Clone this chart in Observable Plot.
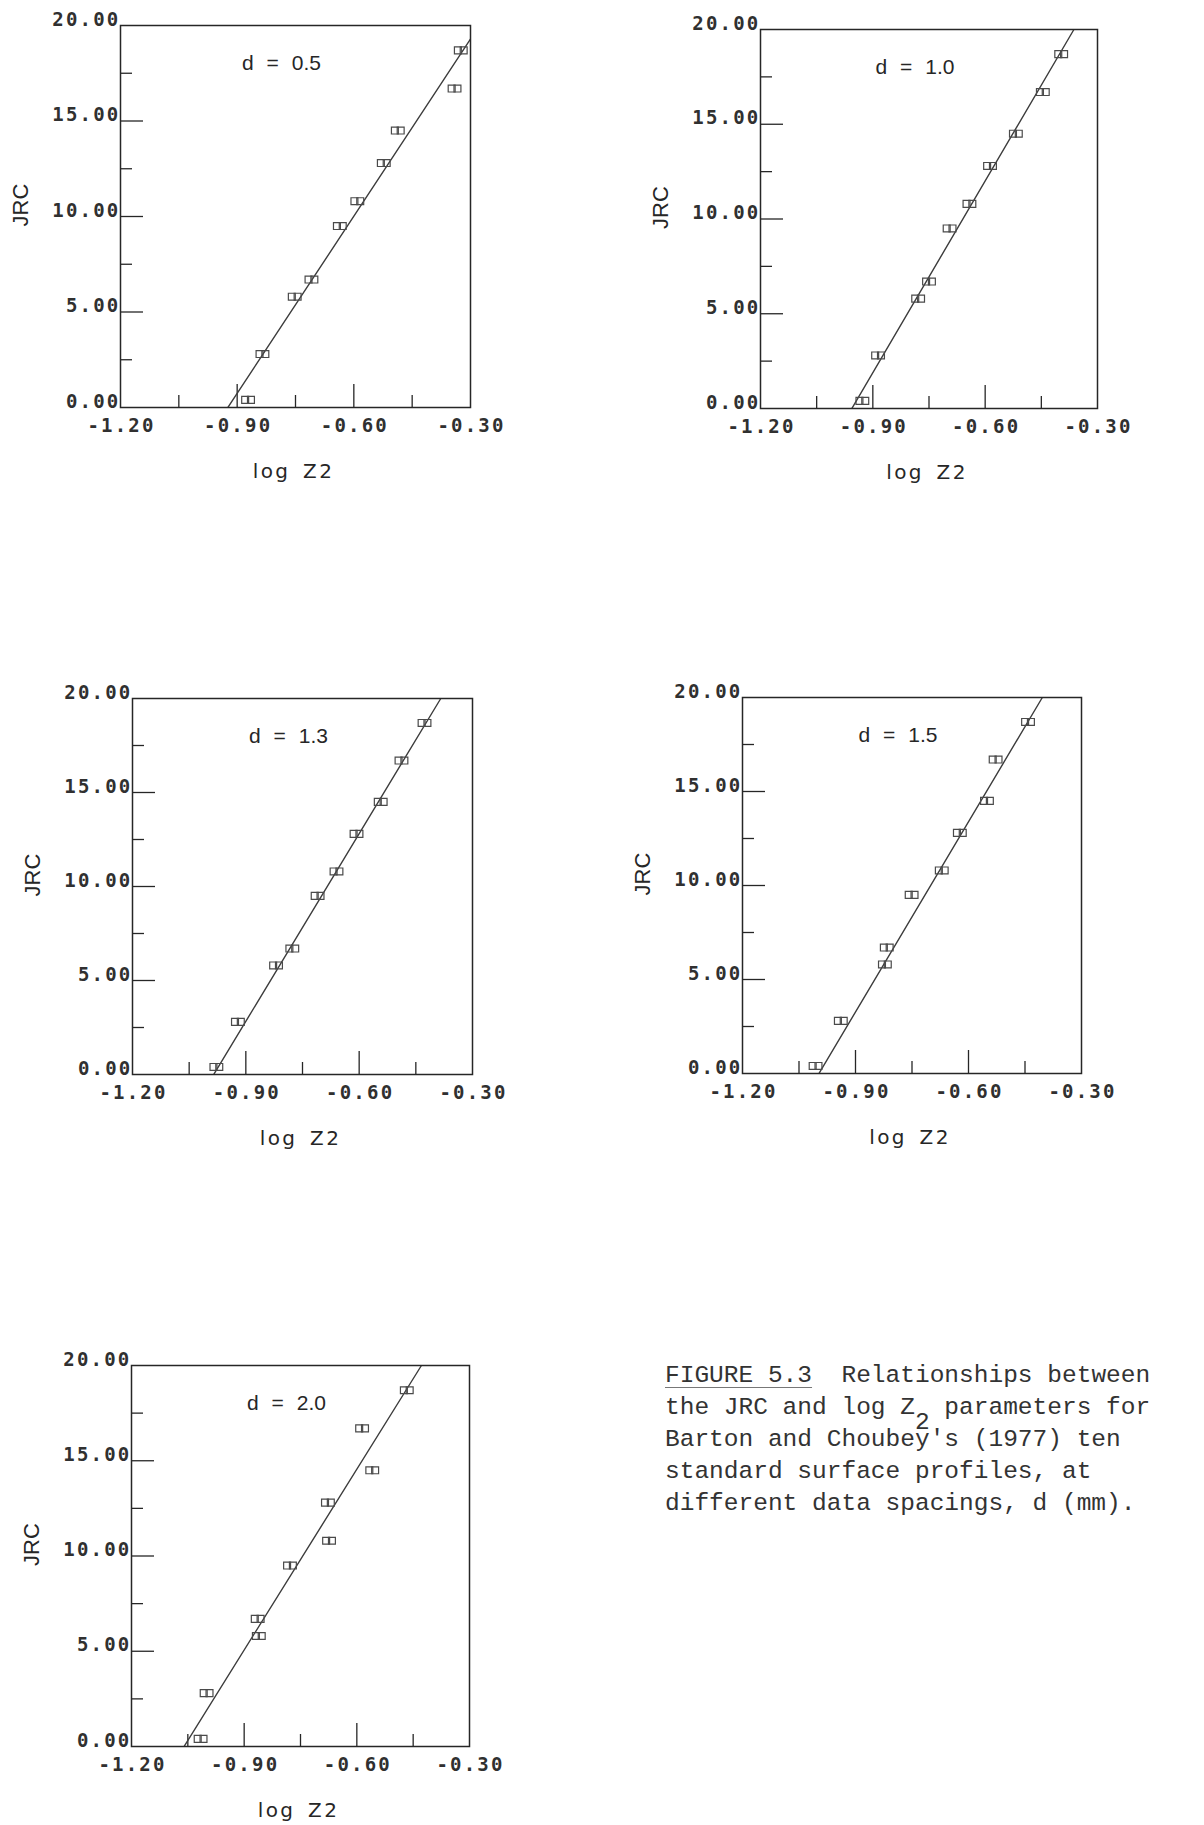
<!DOCTYPE html>
<html>
<head>
<meta charset="utf-8">
<script src="https://cdn.jsdelivr.net/npm/d3@7"></script>
<script src="https://cdn.jsdelivr.net/npm/@observablehq/plot@0.6"></script>
<style>
  html, body { margin: 0; padding: 0; background: #fff; }
  #page { position: relative; width: 1204px; height: 1825px; overflow: hidden; background: #fff; }
  .panel { position: absolute; }
  #caption {
    position: absolute; left: 665px; top: 1360px;
    font-family: "Liberation Mono", "DejaVu Sans Mono", monospace;
    font-size: 24.5px; line-height: 32px; color: #333;
  }
  #caption div { white-space: pre; height: 32px; }
  #caption u { text-decoration-thickness: 1px; text-underline-offset: 5px; text-decoration-color: #777; }
  #caption .sub { position: relative; top: 15px; }
</style>
</head>
<body>
<div id="page"></div>
<script>
// JRC of Barton and Choubey's ten standard profiles
const jrc = [0.4, 2.8, 5.8, 6.7, 9.5, 10.8, 12.8, 14.5, 16.7, 18.7];

// data spacing d (mm) for each panel
const spacings = ["0.5", "1.0", "1.3", "1.5", "2.0"];

// log Z2 of each profile, in the same order as jrc
const logZ2_d05 = [-0.872, -0.835, -0.752, -0.709, -0.636, -0.591, -0.523, -0.487, -0.341, -0.325];
const logZ2_d10 = [-0.928, -0.886, -0.779, -0.750, -0.695, -0.642, -0.587, -0.518, -0.446, -0.397];
const logZ2_d13 = [-0.978, -0.921, -0.820, -0.777, -0.710, -0.660, -0.607, -0.543, -0.488, -0.427];
const logZ2_d15 = [-1.006, -0.939, -0.822, -0.817, -0.751, -0.671, -0.623, -0.551, -0.528, -0.442];
const logZ2_d20 = [-1.016, -1.000, -0.861, -0.864, -0.778, -0.674, -0.677, -0.559, -0.586, -0.467];
const logZ2 = [logZ2_d05, logZ2_d10, logZ2_d13, logZ2_d15, logZ2_d20];

// fitted lines: log Z2 where the fit gives JRC = 0 and JRC = 20
const fitAtZero = [-0.924, -0.956, -0.985, -0.997, -1.060];
const fitAtTwenty = [-0.277, -0.363, -0.384, -0.404, -0.428];

// axes
const xTickValues = [-1.2, -0.9, -0.6, -0.3];
const xTickLabels = ["-1.20", "-0.90", "-0.60", "-0.30"];
const xMajorTicks = [-0.9, -0.6];
const xMinorTicks = [-1.05, -0.75, -0.45];
const yTickValues = [0, 5, 10, 15, 20];
const yTickLabels = ["0.00", "5.00", "10.00", "15.00", "20.00"];
const yMajorTicks = [5, 10, 15];
const yMinorTicks = [2.5, 7.5, 12.5, 17.5];

// caption lines (the subscript is marked with {2})
const captionLines = [
  "<u>FIGURE 5.3</u>  Relationships between",
  "the JRC and log Z{2} parameters for",
  "Barton and Choubey's (1977) ten",
  "standard surface profiles, at",
  "different data spacings, d (mm)."
];

// page layout: plot frame of each panel (px)
const frames = [
  {left: 120, top: 25, right: 470, bottom: 407},
  {left: 760, top: 29, right: 1097, bottom: 408},
  {left: 131.5, top: 698, right: 471.5, bottom: 1074},
  {left: 742, top: 697, right: 1081, bottom: 1073},
  {left: 131, top: 1365, right: 469, bottom: 1746}
];

const ink = "#262626";
const page = document.getElementById("page");

function drawPanel(i) {
  const f = frames[i];
  const ML = 130, MT = 40, MR = 40, MB = 90;
  const fw = f.right - f.left, fh = f.bottom - f.top;
  const pts = jrc.map((y, k) => ({x: logZ2[i][k], y}));
  const fit = [{x: fitAtZero[i], y: 0}, {x: fitAtTwenty[i], y: 20}];
  const tickFont = {fontFamily: "DejaVu Sans Mono", fontSize: 19, fontWeight: "bold", fill: "#303030"};

  const svg = Plot.plot({
    width: ML + fw + MR,
    height: MT + fh + MB,
    marginLeft: ML, marginTop: MT, marginRight: MR, marginBottom: MB,
    x: {domain: [-1.2, -0.3], axis: null},
    y: {domain: [0, 20], axis: null},
    style: {background: "transparent", overflow: "visible"},
    marks: [
      Plot.tickY(yMajorTicks, {y: d => d, insetRight: fw - 23, stroke: ink, strokeWidth: 1.3}),
      Plot.tickY(yMinorTicks, {y: d => d, insetRight: fw - 12, stroke: ink, strokeWidth: 1.3}),
      Plot.tickX(xMajorTicks, {x: d => d, insetTop: fh - 23, stroke: ink, strokeWidth: 1.3}),
      Plot.tickX(xMinorTicks, {x: d => d, insetTop: fh - 12, stroke: ink, strokeWidth: 1.3}),
      Plot.line(fit, {x: "x", y: "y", clip: true, stroke: "#3c3c3c", strokeWidth: 1.4}),
      Plot.dot(pts, {x: "x", y: "y", symbol: "square", r: 3.9, dx: -2.9, fill: "none", stroke: "#4a4a4a", strokeWidth: 1.2}),
      Plot.dot(pts, {x: "x", y: "y", symbol: "square", r: 3.9, dx: 2.9, fill: "none", stroke: "#4a4a4a", strokeWidth: 1.2}),
      Plot.frame({stroke: ink, strokeWidth: 1.5}),
      Plot.text(yTickValues, {
        y: d => d, text: (d, k) => yTickLabels[k], frameAnchor: "left",
        textAnchor: "end", lineAnchor: "bottom", dx: 0, ariaDescription: "ticklabels", ...tickFont
      }),
      Plot.text(xTickValues, {
        x: d => d, text: (d, k) => xTickLabels[k], frameAnchor: "bottom",
        lineAnchor: "top", dy: 11, dx: 1, ariaDescription: "ticklabels", ...tickFont
      }),
      Plot.text(["JRC"], {
        frameAnchor: "left", rotate: -90, dx: -100, dy: 10,
        fontFamily: "Liberation Sans", fontSize: 22, fill: ink
      }),
      Plot.text(["log Z2"], {
        frameAnchor: "bottom", lineAnchor: "bottom", dy: 70, dx: -2,
        fontFamily: "DejaVu Sans", fontSize: 20, fill: ink, ariaDescription: "xlabel"
      }),
      Plot.text([`d = ${spacings[i]}`], {
        frameAnchor: "top", lineAnchor: "bottom", dy: 44, dx: -14,
        fontFamily: "Liberation Sans", fontSize: 21, fill: ink, ariaDescription: "spacing"
      })
    ]
  });

  const sel = d3.select(svg);
  sel.selectAll('g[aria-description="ticklabels"] text').style("letter-spacing", "2.2px");
  sel.selectAll('g[aria-description="xlabel"] text').style("letter-spacing", "2.4px").style("word-spacing", "4px");
  sel.selectAll('g[aria-description="spacing"] text').style("word-spacing", "7px");

  const holder = document.createElement("div");
  holder.className = "panel";
  holder.style.left = (f.left - ML) + "px";
  holder.style.top = (f.top - MT) + "px";
  holder.appendChild(svg);
  page.appendChild(holder);
}

spacings.forEach((_, i) => drawPanel(i));

// figure caption, one block per typed line
const caption = document.createElement("div");
caption.id = "caption";
captionLines.forEach(line => {
  const row = document.createElement("div");
  row.innerHTML = line.replace(/\{(\d)\}/g, '<span class="sub">$1</span>');
  caption.appendChild(row);
});
page.appendChild(caption);
</script>
</body>
</html>
